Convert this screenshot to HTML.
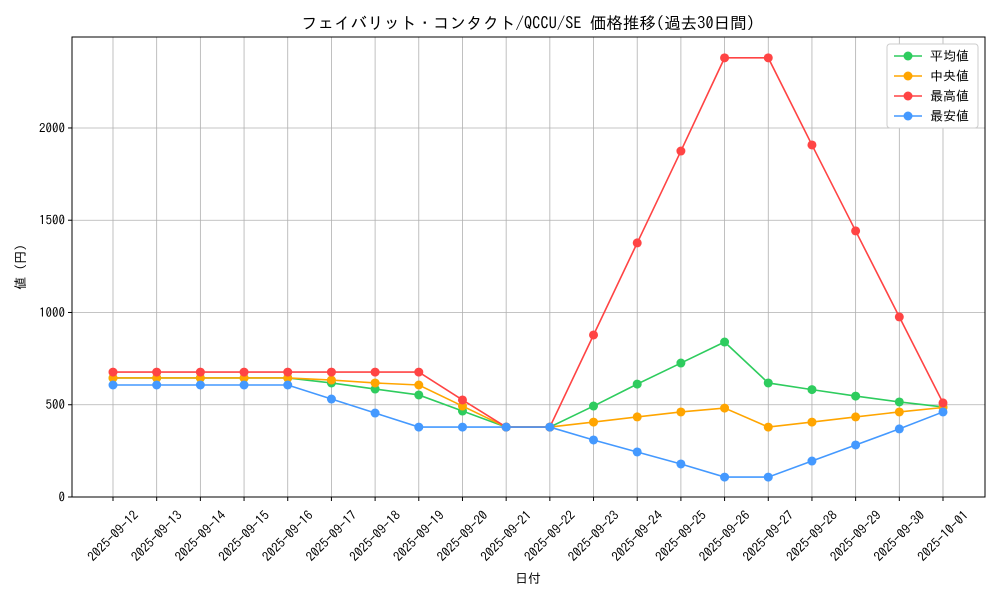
<!DOCTYPE html>
<html><head><meta charset="utf-8"><style>
body{margin:0;background:#fff;}
svg text{font-family:"IPAGothic","Noto Sans CJK JP",monospace;fill:#000;}
</style></head><body>
<svg id="chart" width="1000" height="600" xmlns="http://www.w3.org/2000/svg">
<rect width="1000" height="600" fill="#fff"/>
<text x="528" y="29" font-size="16.5" text-anchor="middle">フェイバリット・コンタクト/QCCU/SE 価格推移(過去30日間)</text>
<g id="grid"></g><g id="series"></g><g id="axes"></g>
<text x="528" y="583" font-size="13" text-anchor="middle">日付</text>
<text transform="translate(25,267) rotate(-90)" font-size="13" text-anchor="middle">値 (円)</text>
<g id="legend"></g>
</svg>
<script>
const categories=["2025-09-12","2025-09-13","2025-09-14","2025-09-15","2025-09-16","2025-09-17","2025-09-18","2025-09-19","2025-09-20","2025-09-21","2025-09-22","2025-09-23","2025-09-24","2025-09-25","2025-09-26","2025-09-27","2025-09-28","2025-09-29","2025-09-30","2025-10-01"];
const avgValues=[645,645,645,645,645,618,585,553,466,379,379,493,612,726,840,618,582,547,515,488];
const medianValues=[645,645,645,645,645,634,618,607,493,379,379,406,434,461,482,379,406,434,461,485];
const maxValues=[677,677,677,677,677,677,677,677,526,379,379,878,1377,1875,2380,2380,1908,1442,976,510];
const minValues=[607,607,607,607,607,531,455,379,379,379,379,309,244,179,108,108,195,282,369,461];
const yTicks=[0,500,1000,1500,2000];
const seriesNames=["平均値","中央値","最高値","最安値"];
const colors=["#2ecc5e","#ffa500","#ff4444","#4499ff"];
const L=72,R=985,T=37,B=497,yMax=2493;
const x=i=>113+i*(943-113)/(categories.length-1);
const y=v=>B-v/yMax*(B-T);
const NS="http://www.w3.org/2000/svg";
function mk(p,t,a){const e=document.createElementNS(NS,t);for(const k in a)e.setAttribute(k,a[k]);p.appendChild(e);return e;}
const grid=document.getElementById('grid'),axes=document.getElementById('axes'),ser=document.getElementById('series'),leg=document.getElementById('legend');
categories.forEach((c,i)=>{
 const g=mk(grid,'line',{x1:x(i),x2:x(i),y1:T,y2:B,stroke:'#b0b0b0','stroke-width':0.8});
 
 mk(axes,'line',{x1:x(i),x2:x(i),y1:B,y2:B+4,stroke:'#000'});
 const cx=x(i),cy=B+39;
 const t=mk(axes,'text',{x:cx,y:cy+4.5,'font-size':13,'text-anchor':'middle',transform:`rotate(-45 ${cx} ${cy})`});
 t.textContent=c;
});
yTicks.forEach(v=>{
 const g=mk(grid,'line',{x1:L,x2:R,y1:y(v),y2:y(v),stroke:'#b0b0b0','stroke-width':0.8});
 
 mk(axes,'line',{x1:L-4,x2:L,y1:y(v),y2:y(v),stroke:'#000'});
 const t=mk(axes,'text',{x:L-7,y:y(v)+4.5,'font-size':13,'text-anchor':'end'});
 t.textContent=v;
});
const fr=mk(axes,'rect',{x:L,y:T,width:R-L,height:B-T,fill:'none',stroke:'#000','stroke-width':1});

[avgValues,medianValues,maxValues,minValues].forEach((vals,s)=>{
 const pl=mk(ser,'polyline',{points:vals.map((v,i)=>x(i)+','+y(v)).join(' '),fill:'none',stroke:colors[s],'stroke-width':1.6});
 
 vals.forEach((v,i)=>{const c=mk(ser,'circle',{cx:x(i),cy:y(v),r:4.5,fill:colors[s]});
 });
});
const lb=mk(leg,'rect',{x:887,y:44,width:91,height:84,fill:'#fff',stroke:'#ccc',rx:3});

seriesNames.forEach((n,s)=>{const yy=56+s*20;
 mk(leg,'line',{x1:894,x2:922,y1:yy,y2:yy,stroke:colors[s],'stroke-width':1.6});
 mk(leg,'circle',{cx:908,cy:yy,r:4.5,fill:colors[s]});
 const t=mk(leg,'text',{x:930,y:yy+4.5,'font-size':13});
 t.textContent=(s==1?' ':'')+n;
});
</script>
</body></html>
